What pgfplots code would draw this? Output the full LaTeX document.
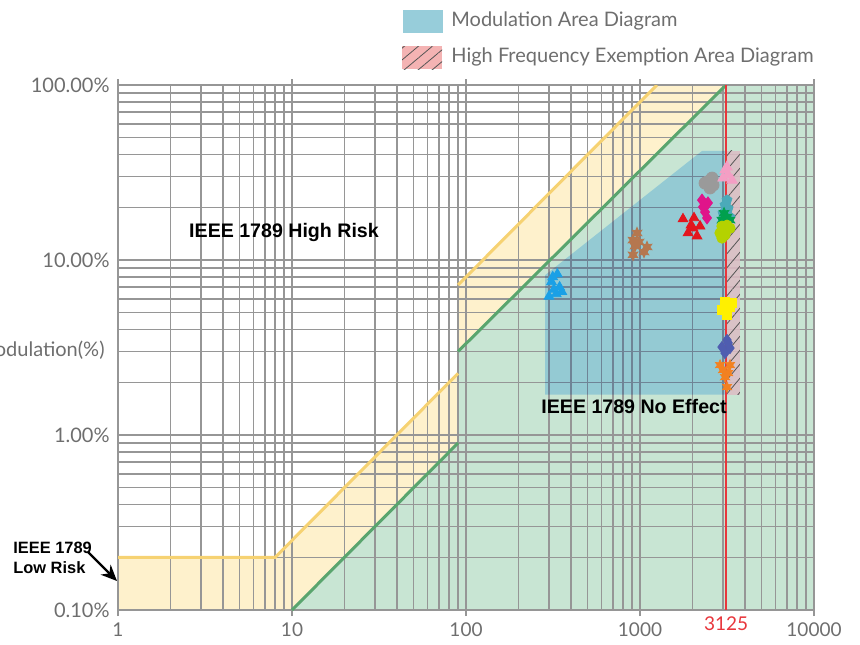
\documentclass[border=0pt]{standalone}
\usepackage{fontspec}
\setmainfont{Lato}
\newfontfamily\boldfont{Liberation Sans}
\usepackage{pgfplots}
\pgfplotsset{compat=1.18}
\usetikzlibrary{patterns.meta,arrows.meta,plotmarks}

\definecolor{gridgray}{HTML}{969696}
\definecolor{labelgray}{HTML}{6E6E6E}
\definecolor{lowyellow}{HTML}{FEF1CC}
\definecolor{yellowline}{HTML}{F6D272}
\definecolor{greenfill}{HTML}{C8E5D3}
\definecolor{greenline}{HTML}{5AA56E}
\definecolor{modblue}{HTML}{BDE2FF}
\definecolor{pinkfill}{HTML}{DDBCC4}
\definecolor{legblue}{HTML}{97CDDA}
\definecolor{legpink}{HTML}{F4B3B3}
\definecolor{hatchgray}{HTML}{555555}
\definecolor{redline}{HTML}{E8363C}
\definecolor{cLblue}{HTML}{1AA0E6}
\definecolor{cBrown}{HTML}{B5774F}
\definecolor{cRed}{HTML}{E3161E}
\definecolor{cMagenta}{HTML}{E0148A}
\definecolor{cGray}{HTML}{9A9A9A}
\definecolor{cPink}{HTML}{F49EC4}
\definecolor{cTeal}{HTML}{4BAAB9}
\definecolor{cGreen}{HTML}{00A04E}
\definecolor{cYgreen}{HTML}{B4D200}
\definecolor{cYellow}{HTML}{FFF000}
\definecolor{cSlate}{HTML}{4F5DB0}
\definecolor{cOrange}{HTML}{F28121}

% filled six-pointed star
\pgfdeclareplotmark{sixstar}{%
  \pgfpathmoveto{\pgfpointpolar{90}{\pgfplotmarksize}}%
  \pgfpathlineto{\pgfpointpolar{120}{0.5\pgfplotmarksize}}%
  \pgfpathlineto{\pgfpointpolar{150}{\pgfplotmarksize}}%
  \pgfpathlineto{\pgfpointpolar{180}{0.5\pgfplotmarksize}}%
  \pgfpathlineto{\pgfpointpolar{210}{\pgfplotmarksize}}%
  \pgfpathlineto{\pgfpointpolar{240}{0.5\pgfplotmarksize}}%
  \pgfpathlineto{\pgfpointpolar{270}{\pgfplotmarksize}}%
  \pgfpathlineto{\pgfpointpolar{300}{0.5\pgfplotmarksize}}%
  \pgfpathlineto{\pgfpointpolar{330}{\pgfplotmarksize}}%
  \pgfpathlineto{\pgfpointpolar{0}{0.5\pgfplotmarksize}}%
  \pgfpathlineto{\pgfpointpolar{30}{\pgfplotmarksize}}%
  \pgfpathlineto{\pgfpointpolar{60}{0.5\pgfplotmarksize}}%
  \pgfpathclose\pgfusepathqfillstroke}

\begin{document}
\begin{tikzpicture}
\begin{axis}[
  at={(0,0)}, anchor=south west,
  scale only axis, width=348pt, height=262.5pt,
  xmode=log, ymode=log,
  xmin=1, xmax=10000, ymin=0.001, ymax=1,
  set layers,
  grid=both,
  major grid style={draw=gridgray, line width=0.75pt},
  minor grid style={draw=gridgray, line width=0.75pt},
  axis line style={draw=gridgray, line width=0.9pt},
  xtick={1,10,100,1000,10000},
  xticklabels={1,10,100,1000,10000},
  minor xtick={2,3,4,5,6,7,8,9,20,30,40,50,60,70,80,90,200,300,400,500,600,700,800,900,2000,3000,4000,5000,6000,7000,8000,9000},
  ytick={0.001,0.01,0.1,1},
  yticklabels={0.10\%,1.00\%,10.00\%,100.00\%},
  minor ytick={0.002,0.003,0.004,0.005,0.006,0.007,0.008,0.009,0.02,0.03,0.04,0.05,0.06,0.07,0.08,0.09,0.2,0.3,0.4,0.5,0.6,0.7,0.8,0.9},
  tick align=outside,
  major tick length=3pt, minor tick length=0pt,
  ytick style={draw=none},
  xtick style={draw=gridgray, line width=0.9pt},
  xticklabel style={font=\fontsize{9.5}{10}\selectfont, text=labelgray},
  yticklabel style={font=\fontsize{10}{11}\selectfont, text=labelgray, inner sep=1pt},
  extra x ticks={3125},
  extra x tick labels={3125},
  extra x tick style={major tick length=0pt, grid=none, xticklabel style={text=redline}},
]
% risk regions
\addplot[on layer=axis background, fill=lowyellow, draw=none] coordinates {
  (1,0.001) (1,0.002) (8,0.002) (90,0.0225) (90,0.072) (1250,1) (10000,1) (10000,0.001)} -- cycle;
\addplot[on layer=axis background, fill=greenfill, draw=none] coordinates {
  (10,0.001) (90,0.009) (90,0.03) (3125,1) (10000,1) (10000,0.001)} -- cycle;

% modulation area and exemption area
\addplot[fill=modblue, draw=none, blend mode=multiply] coordinates {
  (285,0.017) (285,0.082) (2270,0.42) (3125,0.42) (3125,0.017)} -- cycle;
\addplot[fill=pinkfill, fill opacity=0.85, draw=none] coordinates {
  (3125,0.017) (3125,0.42) (3750,0.42) (3750,0.017)} -- cycle;
\addplot[draw=none, pattern={Lines[angle=50,distance=4.5pt,line width=0.4pt]}, pattern color=hatchgray] coordinates {
  (3125,0.017) (3125,0.42) (3750,0.42) (3750,0.017)} -- cycle;

% boundary lines
\addplot[draw=yellowline, line width=1.5pt] coordinates {(1,0.002) (8,0.002) (90,0.0225)};
\addplot[draw=yellowline, line width=1.5pt] coordinates {(90,0.072) (1250,1)};
\addplot[draw=greenline, line width=1.5pt] coordinates {(10,0.001) (90,0.009)};
\addplot[draw=greenline, line width=1.5pt] coordinates {(90,0.03) (3125,1)};
\addplot[draw=redline, line width=1pt] coordinates {(3125,0.001) (3125,1)};

% measured samples
\addplot[only marks, mark=triangle*, mark size=2.8pt, color=cLblue] coordinates {
  (300,0.062) (310,0.075) (320,0.068) (335,0.083) (345,0.07) (330,0.064) (355,0.066) (315,0.08)};
\addplot[only marks, mark=sixstar, mark size=2.8pt, color=cBrown] coordinates {
  (961,0.1427) (912,0.130) (936,0.120) (912,0.107) (1097,0.1187) (1054,0.111) (987,0.1268)};
\addplot[only marks, mark=triangle*, mark size=2.8pt, color=cRed] coordinates {
  (1766,0.1715) (2043,0.174) (1963,0.158) (2213,0.156) (1888,0.1427) (2127,0.137) (2017,0.152)};
\addplot[only marks, mark=diamond*, mark size=3pt, color=cMagenta] coordinates {
  (2271,0.220) (2458,0.212) (2364,0.188) (2428,0.174) (2301,0.201)};
\addplot[only marks, mark=*, mark size=3pt, color=cGray] coordinates {
  (2428,0.279) (2594,0.294) (2524,0.258) (2630,0.268) (2364,0.275)};
\addplot[only marks, mark=triangle*, mark size=3pt, color=cPink] coordinates {
  (3081,0.327) (3209,0.306) (2999,0.294) (3379,0.286) (3162,0.34)};
\addplot[only marks, mark=pentagon*, mark size=2.6pt, color=cTeal] coordinates {
  (3162,0.220) (3081,0.206) (3209,0.197) (2999,0.185) (3290,0.176)};
\addplot[only marks, mark=sixstar, mark size=2.8pt, color=cGreen] coordinates {
  (3040,0.185) (3162,0.176) (2958,0.169) (3290,0.169) (3081,0.162)};
\addplot[only marks, mark=*, mark size=2.6pt, color=cYgreen] coordinates {
  (2958,0.156) (3162,0.158) (3290,0.152) (2884,0.1427) (3081,0.139) (2958,0.1336)};
\addplot[only marks, mark=square*, mark size=2.2pt, color=cYellow] coordinates {
  (3081,0.0575) (3290,0.0539) (2958,0.0518) (3162,0.0485) (3379,0.0568)};
\addplot[only marks, mark=diamond*, mark size=2.8pt, color=cSlate] coordinates {
  (3162,0.0349) (2958,0.0318) (3290,0.0314) (3081,0.0294) (3209,0.0336)};
\addplot[only marks, mark=sixstar, mark size=2.6pt, color=cOrange] coordinates {
  (2884,0.0251) (3290,0.0251) (2999,0.0235) (3209,0.0226) (3081,0.0214) (3162,0.0188)};
\end{axis}

% annotations and legend, placed in reference pixel units
\begin{scope}[x=0.5pt, y=-0.5pt, shift={(-59pt,305pt)}]
  \node[anchor=east, text=labelgray, font=\fontsize{10}{11}\selectfont, inner sep=0pt] at (105,350) {Modulation(\%)};
  \node[font=\boldfont\bfseries\fontsize{9.8}{11}\selectfont, inner sep=0pt] at (284,232) {IEEE 1789 High Risk};
  \node[font=\boldfont\bfseries\fontsize{9.8}{11}\selectfont, inner sep=0pt] at (634,406) {IEEE 1789 No Effect};
  \node[anchor=west, font=\boldfont\bfseries\fontsize{8.2}{10}\selectfont, inner sep=0pt, align=left] at (13,558) {IEEE 1789\\Low Risk};
  \draw[line width=1.2pt, -{Stealth[length=8pt,width=7pt]}] (88,552) -- (117,581);
  \fill[legblue] (403,10) rectangle (443,33);
  \node[anchor=west, text=labelgray, font=\fontsize{10}{12}\selectfont, inner sep=0pt] at (451,21) {Modulation Area Diagram};
  \fill[legpink] (402,46) rectangle (442,69);
  \path[pattern={Lines[angle=40,distance=4.5pt,line width=0.4pt]}, pattern color=hatchgray] (402,46) rectangle (442,69);
  \node[anchor=west, text=labelgray, font=\fontsize{10}{12}\selectfont, inner sep=0pt] at (451,57) {High Frequency Exemption Area Diagram};
\end{scope}
\pgfresetboundingbox
\path[use as bounding box] (-59pt,-17pt) rectangle (371pt,305pt);
\end{tikzpicture}
\end{document}
